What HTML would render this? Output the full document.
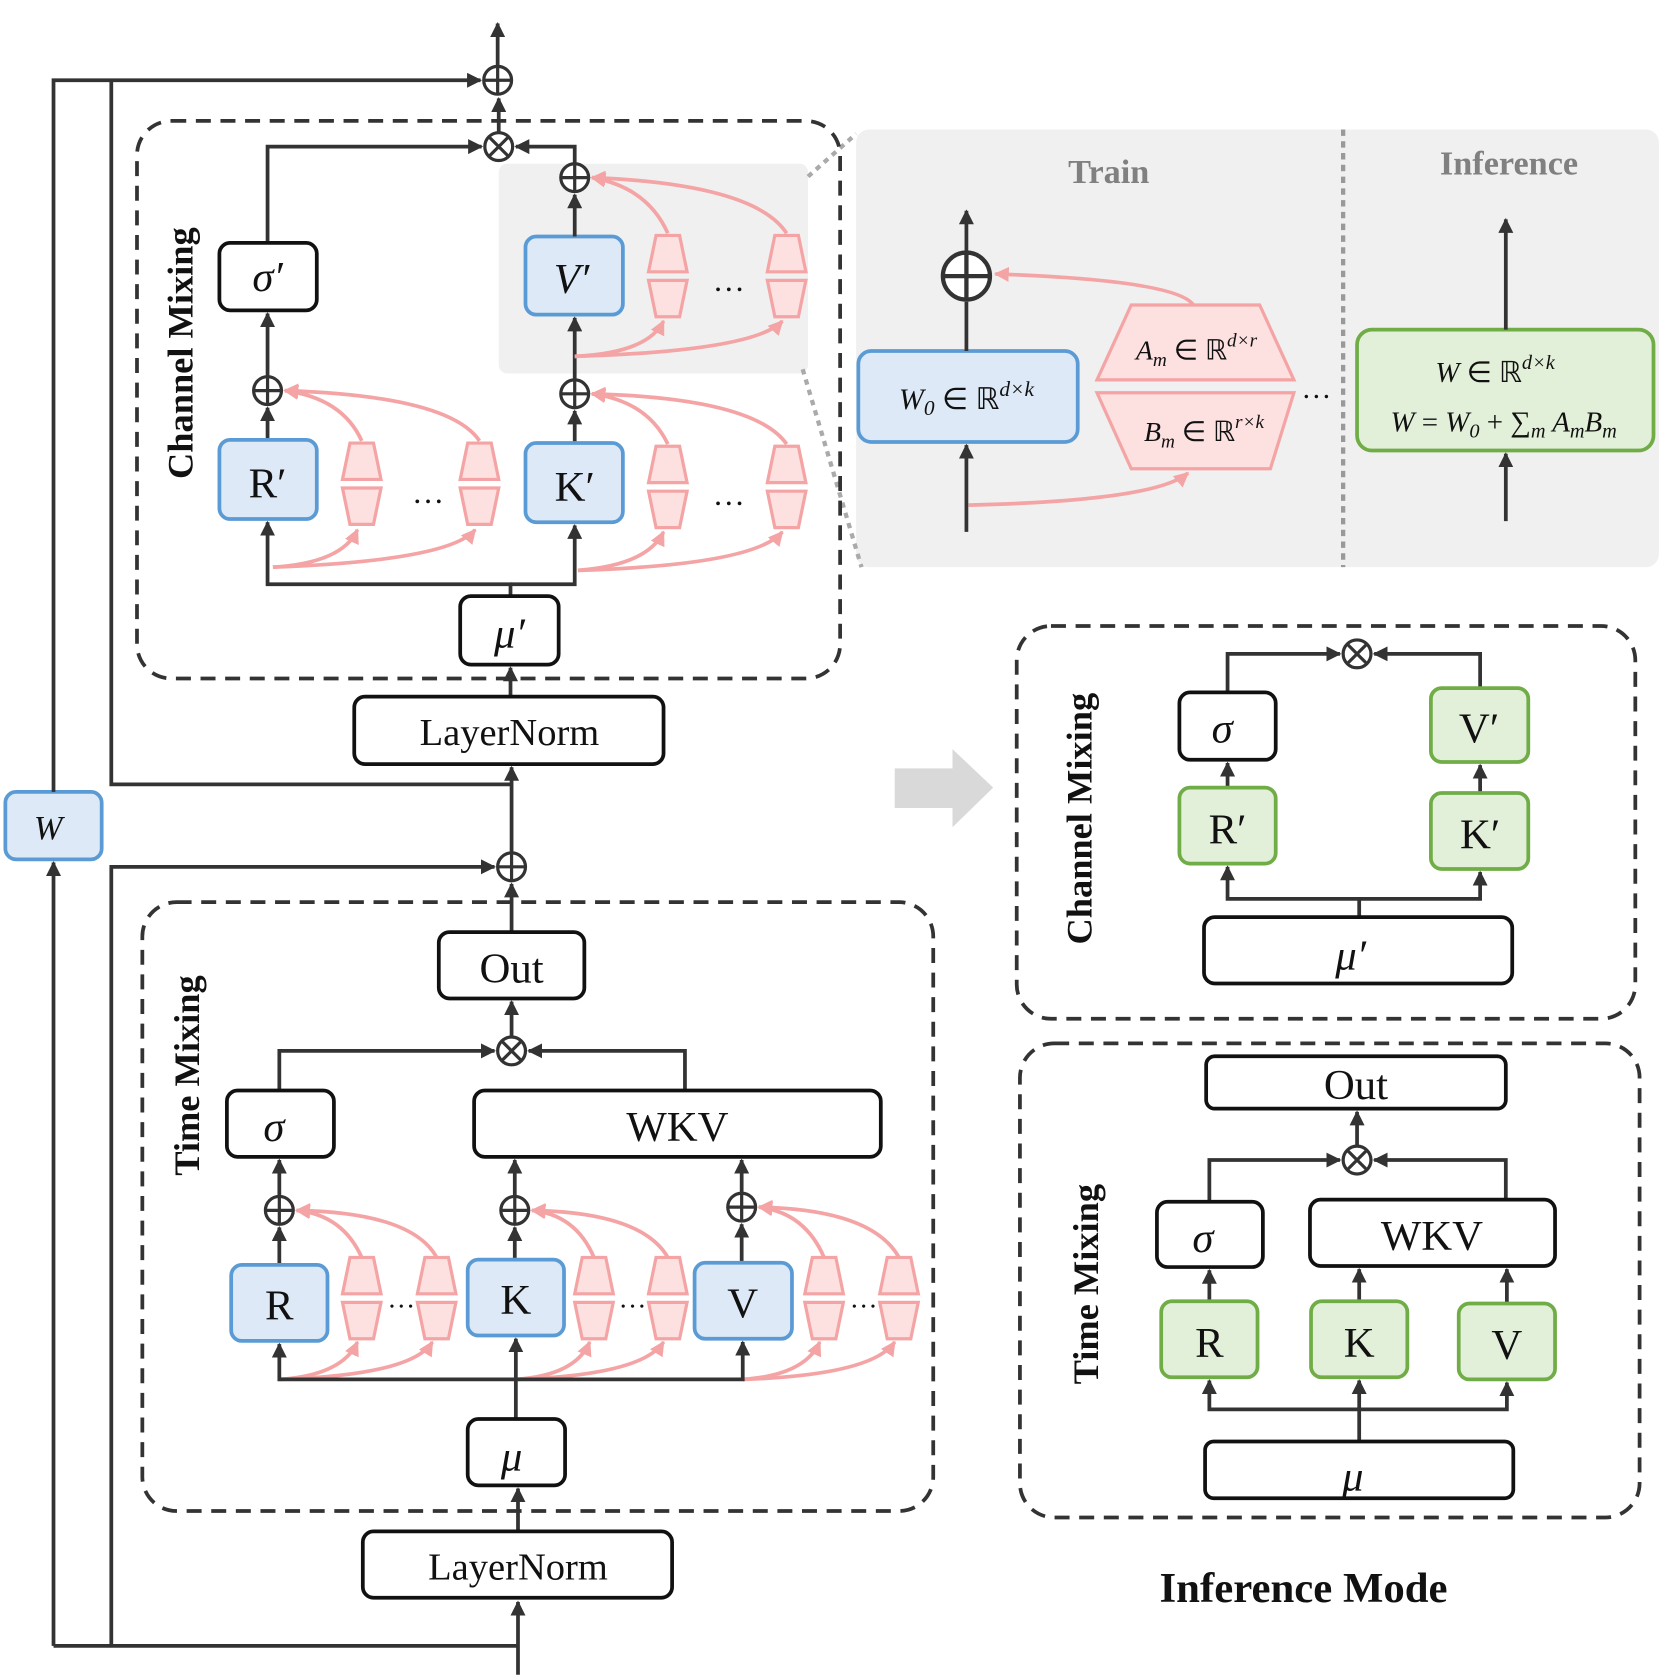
<!DOCTYPE html>
<html><head><meta charset="utf-8"><style>
html,body{margin:0;padding:0;background:#fff}
svg{display:block}
text{font-family:"Liberation Serif",serif;fill:#111}
.b{fill:#fff;stroke:#111;stroke-width:3.5}
.bl{fill:#dde9f6;stroke:#5b9bd5;stroke-width:3.5}
.gr{fill:#e2efd9;stroke:#70ad47;stroke-width:3.5}
.ln{fill:none;stroke:#333;stroke-width:3.5}
.pk{fill:none;stroke:#f4a4a4;stroke-width:3.5}
.ds{fill:none;stroke:#333;stroke-width:3.5;stroke-dasharray:14 9}
.c{fill:#fff;stroke:#333;stroke-width:3}
</style></head><body>
<svg width="1661" height="1678" viewBox="0 0 1552 1568" preserveAspectRatio="none" xmlns="http://www.w3.org/2000/svg">
<defs>
<marker id="a" viewBox="0 0 10 10" refX="9" refY="5" markerWidth="4" markerHeight="4" orient="auto"><path d="M0,0L10,5L0,10z" fill="#333"/></marker>
<marker id="p" viewBox="0 0 10 10" refX="9" refY="5" markerWidth="4" markerHeight="4" orient="auto"><path d="M0,0L10,5L0,10z" fill="#f4a4a4"/></marker>
<g id="tp"><polygon points="-11,-38 11,-38 18,-4 -18,-4" fill="#fde0e0" stroke="#f4a4a4" stroke-width="3"/><polygon points="-18,4 18,4 11,38 -11,38" fill="#fde0e0" stroke="#f4a4a4" stroke-width="3"/></g>
<g id="op"><circle r="13" class="c"/><path d="M-13,0H13M0,-13V13" stroke="#333" stroke-width="3"/></g>
<g id="om"><circle r="13" class="c"/><path d="M-9,-9L9,9M9,-9L-9,9" stroke="#333" stroke-width="3"/></g>
</defs>

<rect x="800" y="121" width="750" height="409" rx="12" fill="#f0f0f0"/>
<rect x="466" y="153" width="289" height="196" rx="8" fill="#f0f0f0"/>
<path d="M755,165L800,125M750,345L805,530" stroke="#aaa" stroke-width="4" stroke-dasharray="5 5"/>
<path d="M1255,121V530" stroke="#999" stroke-width="4" stroke-dasharray="6 5"/>
<text x="1036" y="171" font-size="32" font-weight="bold" text-anchor="middle" style="fill:#808080">Train</text>
<text x="1410" y="163" font-size="32" font-weight="bold" text-anchor="middle" style="fill:#808080">Inference</text>
<path class="ln" d="M903,497V416" marker-end="url(#a)"/>
<rect x="802" y="328" width="205" height="85" rx="12" class="bl"/>
<text x="903" y="382" font-size="28" text-anchor="middle" font-style="italic">W<tspan font-size="20" dy="6">0</tspan><tspan dy="-6" font-style="normal"> ∈ ℝ</tspan><tspan font-size="20" dy="-12">d×k</tspan></text>
<path class="ln" d="M903,328V282"/>
<circle cx="903" cy="258" r="22" fill="#fff" stroke="#333" stroke-width="4"/><path d="M881,258H925M903,236V280" stroke="#333" stroke-width="4"/>
<path class="ln" d="M903,236V197" marker-end="url(#a)"/>
<polygon points="1057,285 1177,285 1209,355 1025,355" fill="#fde0e0" stroke="#f4a4a4" stroke-width="3"/>
<polygon points="1025,367 1209,367 1187,438 1057,438" fill="#fde0e0" stroke="#f4a4a4" stroke-width="3"/>
<text x="1118" y="336" font-size="26" text-anchor="middle" font-style="italic">A<tspan font-size="18" dy="6">m</tspan><tspan dy="-6" font-style="normal"> ∈ ℝ</tspan><tspan font-size="18" dy="-12">d×r</tspan></text>
<text x="1125" y="412" font-size="26" text-anchor="middle" font-style="italic">B<tspan font-size="18" dy="6">m</tspan><tspan dy="-6" font-style="normal"> ∈ ℝ</tspan><tspan font-size="18" dy="-12">r×k</tspan></text>
<path class="pk" d="M1115,285Q1100,262 930,256" marker-end="url(#p)"/>
<path class="pk" d="M905,472Q1080,468 1110,442" marker-end="url(#p)"/>
<text x="1230" y="372" font-size="28" text-anchor="middle">…</text>
<rect x="1268" y="308" width="277" height="113" rx="14" class="gr"/>
<text x="1397" y="357" font-size="27" text-anchor="middle" font-style="italic">W<tspan font-style="normal"> ∈ ℝ</tspan><tspan font-size="19" dy="-12">d×k</tspan></text>
<text x="1405" y="403" font-size="27" text-anchor="middle" font-style="italic">W<tspan font-style="normal"> = </tspan>W<tspan font-size="19" dy="6">0</tspan><tspan dy="-6" font-style="normal"> + ∑</tspan><tspan font-size="19" dy="6">m</tspan><tspan dy="-6"> A</tspan><tspan font-size="19" dy="6">m</tspan><tspan dy="-6">B</tspan><tspan font-size="19" dy="6">m</tspan></text>
<path class="ln" d="M1407,308V205" marker-end="url(#a)"/>
<path class="ln" d="M1407,487V424" marker-end="url(#a)"/>

<path class="ln" d="M484,1565V1497" marker-end="url(#a)"/>
<path class="ln" d="M50,1538H484"/>
<path class="ln" d="M104,1538V810H462" marker-end="url(#a)"/>
<path class="ln" d="M50,1538V806" marker-end="url(#a)"/>
<rect x="5" y="740" width="90" height="63" rx="10" class="bl"/>
<text x="45" y="784" font-size="32" text-anchor="middle" font-style="italic">W</text>
<path class="ln" d="M50,740V75H449" marker-end="url(#a)"/>
<path class="ln" d="M104,75V733H478"/>
<use href="#op" x="465" y="75"/>
<path class="ln" d="M465,62V22" marker-end="url(#a)"/>

<rect x="128" y="113" width="657" height="521" rx="32" class="ds"/>
<text transform="translate(180,330) rotate(-90)" font-size="34" font-weight="bold" text-anchor="middle">Channel  Mixing</text>
<use href="#om" x="466" y="137"/>
<path class="ln" d="M466,124V92" marker-end="url(#a)"/>
<path class="ln" d="M250,227V137H450" marker-end="url(#a)"/>
<path class="ln" d="M537,153V137H482" marker-end="url(#a)"/>
<rect x="205" y="227" width="91" height="63" rx="10" class="b"/>
<text x="250" y="272" font-size="40" text-anchor="middle" font-style="italic">σ′</text>
<path class="ln" d="M250,352V293" marker-end="url(#a)"/>
<use href="#op" x="250" y="365"/>
<path class="ln" d="M250,411V381" marker-end="url(#a)"/>
<rect x="205" y="411" width="91" height="74" rx="10" class="bl"/>
<text x="250" y="465" font-size="40" text-anchor="middle">R′</text>
<rect x="491" y="221" width="91" height="73" rx="10" class="bl"/>
<text x="534" y="274" font-size="40" text-anchor="middle" font-style="italic">V′</text>
<use href="#op" x="537" y="166"/>
<path class="ln" d="M537,221V182" marker-end="url(#a)"/>
<path class="ln" d="M537,355V297" marker-end="url(#a)"/>
<use href="#op" x="537" y="368"/>
<path class="ln" d="M537,414V384" marker-end="url(#a)"/>
<rect x="491" y="414" width="91" height="74" rx="10" class="bl"/>
<text x="537" y="468" font-size="40" text-anchor="middle">K′</text>
<use href="#tp" x="338" y="452"/><use href="#tp" x="448" y="452"/>
<use href="#tp" x="624" y="455"/><use href="#tp" x="735" y="455"/>
<use href="#tp" x="624" y="258"/><use href="#tp" x="735" y="258"/>
<text x="400" y="470" font-size="30" text-anchor="middle">…</text>
<text x="681" y="472" font-size="30" text-anchor="middle">…</text>
<text x="681" y="272" font-size="30" text-anchor="middle">…</text>
<path class="pk" d="M255,530Q420,524 444,495" marker-end="url(#p)"/>
<path class="pk" d="M255,530Q320,526 334,495" marker-end="url(#p)"/>
<path class="pk" d="M338,412Q320,372 266,365" marker-end="url(#p)"/>
<path class="pk" d="M448,412Q420,370 266,365" marker-end="url(#p)"/>
<path class="pk" d="M540,533Q605,528 620,497" marker-end="url(#p)"/>
<path class="pk" d="M540,533Q705,528 731,497" marker-end="url(#p)"/>
<path class="pk" d="M624,415Q605,375 553,368" marker-end="url(#p)"/>
<path class="pk" d="M735,415Q705,372 553,368" marker-end="url(#p)"/>
<path class="pk" d="M537,333Q605,330 620,300" marker-end="url(#p)"/>
<path class="pk" d="M537,333Q705,328 731,300" marker-end="url(#p)"/>
<path class="pk" d="M624,218Q605,175 553,166" marker-end="url(#p)"/>
<path class="pk" d="M735,218Q705,172 553,166" marker-end="url(#p)"/>
<path class="ln" d="M477,557V546H250V488" marker-end="url(#a)"/>
<path class="ln" d="M477,546H537V491" marker-end="url(#a)"/>
<rect x="430" y="557" width="92" height="64" rx="10" class="b"/>
<text x="476" y="605" font-size="40" text-anchor="middle" font-style="italic">μ′</text>
<path class="ln" d="M477,651V624" marker-end="url(#a)"/>
<rect x="331" y="651" width="289" height="63" rx="10" class="b"/>
<text x="476" y="696" font-size="36" text-anchor="middle">LayerNorm</text>
<path class="ln" d="M478,797V717" marker-end="url(#a)"/>
<use href="#op" x="478" y="810"/>

<rect x="133" y="843" width="739" height="569" rx="32" class="ds"/>
<text transform="translate(186,1005) rotate(-90)" font-size="34" font-weight="bold" text-anchor="middle">Time Mixing</text>
<path class="ln" d="M478,871V826" marker-end="url(#a)"/>
<rect x="410" y="871" width="136" height="62" rx="10" class="b"/>
<text x="478" y="918" font-size="40" text-anchor="middle">Out</text>
<use href="#om" x="478" y="982"/>
<path class="ln" d="M478,969V936" marker-end="url(#a)"/>
<path class="ln" d="M261,1019V982H462" marker-end="url(#a)"/>
<path class="ln" d="M640,1019V982H494" marker-end="url(#a)"/>
<rect x="212" y="1019" width="100" height="62" rx="10" class="b"/>
<text x="256" y="1066" font-size="40" text-anchor="middle" font-style="italic">σ</text>
<rect x="443" y="1019" width="380" height="62" rx="10" class="b"/>
<text x="633" y="1066" font-size="40" text-anchor="middle">WKV</text>
<use href="#op" x="261" y="1131"/><use href="#op" x="481" y="1131"/><use href="#op" x="693" y="1128"/>
<path class="ln" d="M261,1118V1084" marker-end="url(#a)"/>
<path class="ln" d="M481,1118V1084" marker-end="url(#a)"/>
<path class="ln" d="M693,1115V1084" marker-end="url(#a)"/>
<path class="ln" d="M261,1182V1147" marker-end="url(#a)"/>
<path class="ln" d="M481,1177V1147" marker-end="url(#a)"/>
<path class="ln" d="M693,1180V1144" marker-end="url(#a)"/>
<rect x="216" y="1182" width="90" height="71" rx="10" class="bl"/>
<text x="261" y="1233" font-size="40" text-anchor="middle">R</text>
<rect x="437" y="1177" width="90" height="71" rx="10" class="bl"/>
<text x="482" y="1228" font-size="40" text-anchor="middle">K</text>
<rect x="649" y="1180" width="91" height="71" rx="10" class="bl"/>
<text x="694" y="1231" font-size="40" text-anchor="middle">V</text>
<use href="#tp" x="338" y="1213"/><use href="#tp" x="408" y="1213"/>
<use href="#tp" x="555" y="1213"/><use href="#tp" x="624" y="1213"/>
<use href="#tp" x="770" y="1213"/><use href="#tp" x="840" y="1213"/>
<text x="375" y="1222" font-size="26" text-anchor="middle">…</text>
<text x="591" y="1222" font-size="26" text-anchor="middle">…</text>
<text x="807" y="1222" font-size="26" text-anchor="middle">…</text>
<path class="pk" d="M261,1289Q320,1285 334,1254" marker-end="url(#p)"/>
<path class="pk" d="M261,1289Q385,1285 404,1254" marker-end="url(#p)"/>
<path class="pk" d="M338,1175Q320,1135 277,1131" marker-end="url(#p)"/>
<path class="pk" d="M408,1175Q385,1133 277,1131" marker-end="url(#p)"/>
<path class="pk" d="M482,1289Q538,1285 551,1254" marker-end="url(#p)"/>
<path class="pk" d="M482,1289Q600,1285 620,1254" marker-end="url(#p)"/>
<path class="pk" d="M555,1175Q538,1135 497,1131" marker-end="url(#p)"/>
<path class="pk" d="M624,1175Q600,1133 497,1131" marker-end="url(#p)"/>
<path class="pk" d="M694,1289Q752,1285 766,1254" marker-end="url(#p)"/>
<path class="pk" d="M694,1289Q815,1285 836,1254" marker-end="url(#p)"/>
<path class="pk" d="M770,1175Q752,1133 709,1128" marker-end="url(#p)"/>
<path class="pk" d="M840,1175Q815,1130 709,1128" marker-end="url(#p)"/>
<path class="ln" d="M482,1326V1289H261V1256" marker-end="url(#a)"/>
<path class="ln" d="M482,1289V1251" marker-end="url(#a)"/>
<path class="ln" d="M482,1289H694V1254" marker-end="url(#a)"/>
<rect x="437" y="1326" width="91" height="62" rx="10" class="b"/>
<text x="478" y="1374" font-size="40" text-anchor="middle" font-style="italic">μ</text>
<path class="ln" d="M484,1431V1391" marker-end="url(#a)"/>
<rect x="339" y="1431" width="289" height="62" rx="10" class="b"/>
<text x="484" y="1476" font-size="36" text-anchor="middle">LayerNorm</text>

<polygon points="836,718 890,718 890,700 928,736 890,773 890,755 836,755" fill="#d9d9d9"/>

<rect x="950" y="585" width="578" height="367" rx="32" class="ds"/>
<text transform="translate(1020,765) rotate(-90)" font-size="34" font-weight="bold" text-anchor="middle">Channel  Mixing</text>
<use href="#om" x="1268" y="611"/>
<path class="ln" d="M1147,647V611H1252" marker-end="url(#a)"/>
<path class="ln" d="M1383,643V611H1284" marker-end="url(#a)"/>
<rect x="1102" y="647" width="90" height="63" rx="10" class="b"/>
<text x="1142" y="694" font-size="40" text-anchor="middle" font-style="italic">σ</text>
<rect x="1337" y="643" width="91" height="69" rx="10" class="gr"/>
<text x="1382" y="694" font-size="40" text-anchor="middle">V′</text>
<path class="ln" d="M1147,736V713" marker-end="url(#a)"/>
<path class="ln" d="M1383,741V715" marker-end="url(#a)"/>
<rect x="1102" y="736" width="90" height="71" rx="10" class="gr"/>
<text x="1147" y="788" font-size="40" text-anchor="middle">R′</text>
<rect x="1337" y="741" width="91" height="71" rx="10" class="gr"/>
<text x="1383" y="793" font-size="40" text-anchor="middle">K′</text>
<path class="ln" d="M1270,857V840H1147V810" marker-end="url(#a)"/>
<path class="ln" d="M1270,840H1383V815" marker-end="url(#a)"/>
<rect x="1125" y="857" width="288" height="62" rx="10" class="b"/>
<text x="1262" y="906" font-size="40" text-anchor="middle" font-style="italic">μ′</text>

<rect x="953" y="975" width="579" height="443" rx="32" class="ds"/>
<text transform="translate(1026,1200) rotate(-90)" font-size="34" font-weight="bold" text-anchor="middle">Time  Mixing</text>
<rect x="1127" y="987" width="280" height="49" rx="8" class="b"/>
<text x="1267" y="1027" font-size="40" text-anchor="middle">Out</text>
<use href="#om" x="1268" y="1084"/>
<path class="ln" d="M1268,1071V1039" marker-end="url(#a)"/>
<path class="ln" d="M1130,1123V1084H1252" marker-end="url(#a)"/>
<path class="ln" d="M1407,1121V1084H1284" marker-end="url(#a)"/>
<rect x="1081" y="1123" width="99" height="61" rx="10" class="b"/>
<text x="1124" y="1170" font-size="40" text-anchor="middle" font-style="italic">σ</text>
<rect x="1224" y="1121" width="229" height="62" rx="10" class="b"/>
<text x="1338" y="1168" font-size="40" text-anchor="middle">WKV</text>
<path class="ln" d="M1130,1216V1187" marker-end="url(#a)"/>
<path class="ln" d="M1270,1216V1186" marker-end="url(#a)"/>
<path class="ln" d="M1408,1218V1186" marker-end="url(#a)"/>
<rect x="1085" y="1216" width="90" height="71" rx="10" class="gr"/>
<text x="1130" y="1268" font-size="40" text-anchor="middle">R</text>
<rect x="1225" y="1216" width="90" height="71" rx="10" class="gr"/>
<text x="1270" y="1268" font-size="40" text-anchor="middle">K</text>
<rect x="1363" y="1218" width="90" height="71" rx="10" class="gr"/>
<text x="1408" y="1270" font-size="40" text-anchor="middle">V</text>
<path class="ln" d="M1270,1347V1317H1130V1290" marker-end="url(#a)"/>
<path class="ln" d="M1270,1317V1290" marker-end="url(#a)"/>
<path class="ln" d="M1270,1317H1408V1292" marker-end="url(#a)"/>
<rect x="1126" y="1347" width="288" height="53" rx="8" class="b"/>
<text x="1264" y="1393" font-size="40" text-anchor="middle" font-style="italic">μ</text>

<text x="1218" y="1497" font-size="40" font-weight="bold" text-anchor="middle">Inference Mode</text>
</svg>
</body></html>
